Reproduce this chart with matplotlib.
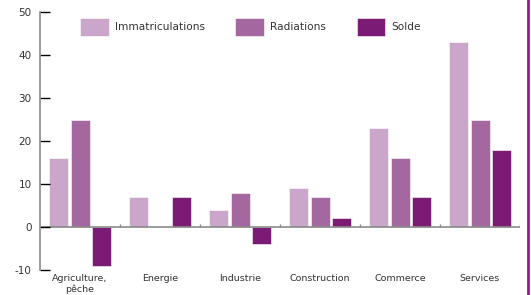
import numpy as np
import matplotlib.pyplot as plt
from matplotlib.lines import Line2D

plt.rcParams["axes.unicode_minus"] = False

categories = ["Agriculture,\npêche", "Energie", "Industrie",
              "Construction", "Commerce", "Services"]
immatriculations = [16, 7, 4, 9, 23, 43]
radiations = [25, 0, 8, 7, 16, 25]
solde = [-9, 7, -4, 2, 7, 18]

series = [("Immatriculations", immatriculations, "#cba6cb"),
          ("Radiations", radiations, "#a4679f"),
          ("Solde", solde, "#7c1b75")]

fig = plt.figure(figsize=(5.31, 2.95), dpi=100)
ax = fig.add_axes([40 / 531, 25 / 295, 480 / 531, 258 / 295])

x = np.arange(len(categories))
w = 0.2375
for k, (name, vals, col) in enumerate(series):
    ax.bar(x + (k - 1) * 0.27, vals, width=w, color=col, label=name,
           edgecolor="white", linewidth=0.4)

ax.set_xlim(-0.5, len(categories) - 0.5)
ax.set_ylim(-10, 50)

# zero line with little separators between groups
ax.axhline(0, color="#8a8a8a", linewidth=1.2, zorder=1)
ax.vlines(x[1:] - 0.5, 0, 0.7, color="#8a8a8a", linewidth=1)
ax.vlines([len(categories) - 0.5], 0, 0.7, color="#8a8a8a", linewidth=1)

for s in ["top", "right", "bottom"]:
    ax.spines[s].set_visible(False)
ax.spines["left"].set_color("#8a8a8a")
ax.spines["left"].set_linewidth(1.2)

ax.set_yticks(range(-10, 51, 10))
ax.tick_params(axis="y", direction="in", length=7, width=1, pad=6,
               labelsize=7.5, labelcolor="#333333")
for i, t in enumerate(ax.yaxis.get_major_ticks()):
    t.tick1line.set_color("#d9a3d6" if i % 2 == 0 else "#777777")

ax.set_xticks(x)
ax.set_xticklabels(categories, fontsize=6.8, color="#333333")
ax.tick_params(axis="x", length=0, pad=3)

ax.legend(loc="upper left", bbox_to_anchor=(80 / 531, 1 - 18 / 295),
          bbox_transform=fig.transFigure, ncol=3, frameon=False,
          fontsize=7.6, labelcolor="#333333", handlelength=2.7,
          handleheight=2.2, handletextpad=0.6, columnspacing=2.9,
          borderaxespad=0, borderpad=0)

fig.add_artist(Line2D([528 / 531, 528 / 531], [0, 1], color="#8b1f86",
                      linewidth=2, transform=fig.transFigure))

fig.savefig("out.png", dpi=100)
